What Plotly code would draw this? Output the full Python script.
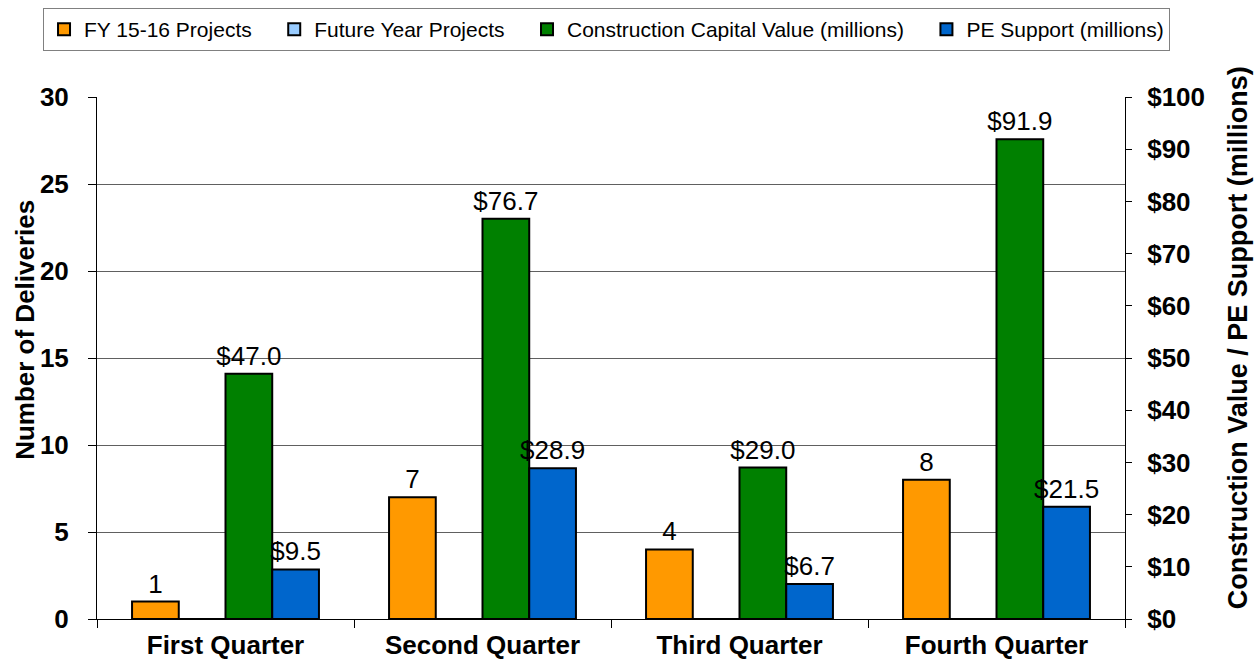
import plotly.graph_objects as go

categories = ["First Quarter", "Second Quarter", "Third Quarter", "Fourth Quarter"]
fy_projects = [1, 7, 4, 8]
future_projects = [0, 0, 0, 0]
construction_value = [47.0, 76.7, 29.0, 91.9]
pe_support = [9.5, 28.9, 6.7, 21.5]
series_names = ["FY 15-16 Projects", "Future Year Projects",
                "Construction Capital Value (millions)", "PE Support (millions)"]

FONT = "Liberation Sans, Arial, sans-serif"
w = 1 / 5.5
PAD = "\u00a0\u00a0\u00a0"
LBL = dict(size=26, color="black", family=FONT)

fig = go.Figure()
fig.add_trace(go.Bar(
    x=categories, y=fy_projects, name=series_names[0] + PAD,
    marker=dict(color="#FF9900", line=dict(color="black", width=2)),
    width=w, offset=-2 * w, text=[str(v) for v in fy_projects],
    textposition="outside", textfont=LBL, constraintext="none",
    cliponaxis=False, yaxis="y"))
fig.add_trace(go.Bar(
    x=categories, y=future_projects, name=series_names[1] + PAD,
    marker=dict(color="#99CCFF", line=dict(color="black", width=2)),
    width=w, offset=-w, yaxis="y"))
fig.add_trace(go.Bar(
    x=categories, y=construction_value, name=series_names[2] + PAD,
    marker=dict(color="#008000", line=dict(color="black", width=2)),
    width=w, offset=0, text=[f"${v:.1f}" for v in construction_value],
    textposition="outside", textfont=LBL, constraintext="none",
    cliponaxis=False, yaxis="y2"))
fig.add_trace(go.Bar(
    x=categories, y=pe_support, name=series_names[3],
    marker=dict(color="#0066CC", line=dict(color="black", width=2)),
    width=w, offset=w, text=[f"${v:.1f}" for v in pe_support],
    textposition="outside", textfont=LBL, constraintext="none",
    cliponaxis=False, yaxis="y2"))

BOLD = dict(size=26, family=FONT, weight="bold", color="black")

fig.update_layout(
    width=1255, height=660,
    margin=dict(l=97, r=130, t=97, b=41, autoexpand=False),
    paper_bgcolor="white", plot_bgcolor="white",
    font=dict(family=FONT, color="black"),
    barmode="overlay",
    showlegend=True,
    legend=dict(
        orientation="h", xref="paper", yref="paper",
        x=1.0438, xanchor="right", y=1.1705, yanchor="top",
        bordercolor="#808080", borderwidth=1,
        font=dict(size=21, family=FONT, color="black"),
        itemwidth=30, traceorder="normal",
    ),
    xaxis=dict(
        type="category", showline=True, linecolor="black", linewidth=1,
        ticks="outside", ticklen=8, tickcolor="black", tickson="boundaries",
        tickfont=BOLD, ticklabelstandoff=3, automargin=False,
        showgrid=False, range=[-0.5, 3.5],
    ),
    yaxis=dict(
        range=[0, 30], dtick=5, showline=True, linecolor="black", linewidth=1,
        ticks="outside", ticklen=8, tickcolor="black",
        tickfont=BOLD, ticklabelstandoff=14, automargin=False,
        showgrid=True, gridcolor="#606060", gridwidth=1,
        zeroline=False,
    ),
    yaxis2=dict(
        range=[0, 100], dtick=10, overlaying="y", side="right",
        showline=True, linecolor="black", linewidth=1,
        ticks="outside", ticklen=6, tickcolor="black", tickprefix="$",
        tickfont=BOLD, ticklabelstandoff=10, automargin=False,
        showgrid=False, zeroline=False,
    ),
    annotations=[
        dict(text="Number of Deliveries", textangle=-90, showarrow=False,
             xref="paper", yref="paper", x=-0.070, y=0.554,
             xanchor="center", yanchor="middle", font=BOLD),
        dict(text="Construction Value / PE Support (millions)", textangle=-90,
             showarrow=False, xref="paper", yref="paper", x=1.110, y=0.538,
             xanchor="center", yanchor="middle",
             font=dict(size=27, family=FONT, weight="bold", color="black")),
    ],
)

fig.write_html("out.html")
